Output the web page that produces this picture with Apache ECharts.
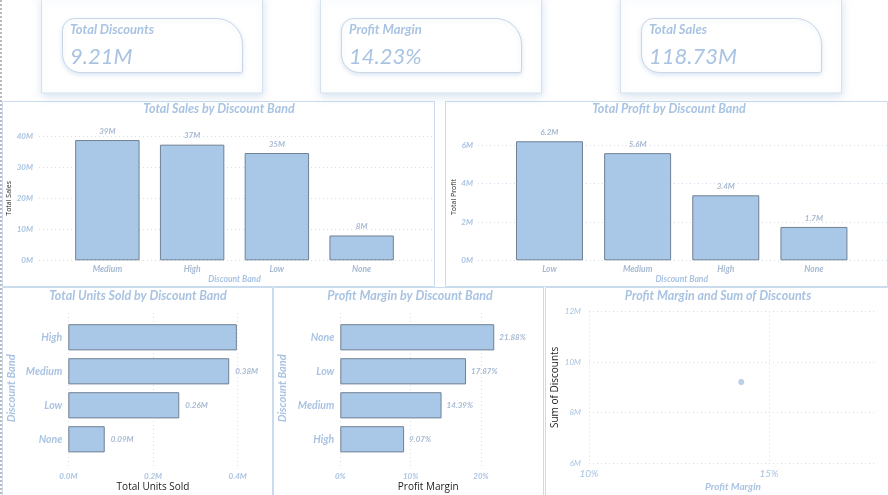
<!DOCTYPE html>
<html style="height: 100%">
<head>
    <meta charset="utf-8">
    <script src="https://cdn.jsdelivr.net/npm/echarts@6/dist/echarts.min.js"></script>
</head>
<body style="height: 100%; margin: 0; background: #fff">
    <div id="main" style="width: 888px; height: 495px;"></div>
    <script type="text/javascript">
    // KPI cards
    var kpiNames = ['Total Discounts', 'Profit Margin', 'Total Sales'];
    var kpiValues = ['9.21M', '14.23%', '118.73M'];

    // Total Sales by Discount Band (M)
    var salesBands = ['Medium', 'High', 'Low', 'None'];
    var salesValues = [38.8, 37.3, 34.6, 8.0];
    // Total Profit by Discount Band (M)
    var profitBands = ['Low', 'Medium', 'High', 'None'];
    var profitValues = [6.21, 5.59, 3.39, 1.74];
    // Total Units Sold by Discount Band (M)
    var unitsBands = ['High', 'Medium', 'Low', 'None'];
    var unitsValues = [0.398, 0.38, 0.262, 0.086];
    // Profit Margin by Discount Band (%)
    var marginBands = ['None', 'Low', 'Medium', 'High'];
    var marginValues = [21.88, 17.87, 14.39, 9.07];
    // Profit Margin (%) vs Sum of Discounts (M)
    var scatterPoint = [14.23, 9.21];

    var LB = '#a9c3e2';
    var LB2 = '#a7b9d1';
    var BAR = '#a9c8e7';
    var BAR_EDGE = '#6f8194';
    var FONT = 'Lato';
    var dotted = { show: true, lineStyle: { color: '#d5dee8', type: [1, 3], width: 1 } };
    var noLine = { show: false };

    function lbl(size, bold, color) {
        return { color: color || LB, fontSize: size, fontStyle: 'italic', fontWeight: bold ? 'bold' : 'normal', fontFamily: FONT };
    }
    function titleAt(text, x, y) {
        return { text: text, left: x, top: y, textAlign: 'center', padding: 0,
            textStyle: { color: LB, fontSize: 12.5, fontStyle: 'italic', fontWeight: 'bold', fontFamily: FONT } };
    }
    function barStyle() {
        return { color: BAR, borderColor: BAR_EDGE, borderWidth: 1 };
    }

    var myChart = echarts.init(document.getElementById('main'));

    // 面板和卡片
    var graphics = [
        { type: 'line', shape: { x1: 1, y1: 0, x2: 1, y2: 495 }, style: { stroke: '#777', lineDash: [2, 2], lineWidth: 1 } },
        { type: 'rect', shape: { x: 2.5, y: 101.5, width: 432, height: 185 }, style: { fill: 'none', stroke: '#c9dbec' } },
        { type: 'rect', shape: { x: 445.5, y: 101.5, width: 442, height: 185 }, style: { fill: 'none', stroke: '#c9dbec' } },
        { type: 'rect', shape: { x: 2.5, y: 287.5, width: 270, height: 210 }, style: { fill: 'none', stroke: '#c9dbec' } },
        { type: 'rect', shape: { x: 273.5, y: 287.5, width: 270, height: 210 }, style: { fill: 'none', stroke: '#c9dbec' } },
        { type: 'rect', shape: { x: 545.5, y: 287.5, width: 343, height: 210 }, style: { fill: 'none', stroke: '#c9dbec' } }
    ];
    var cardX = [41, 320, 620];
    for (var i = 0; i < kpiNames.length; i++) {
        var cx = cardX[i];
        graphics.push({ type: 'rect', shape: { x: cx + 0.5, y: -3, width: 221, height: 96 },
            style: { fill: '#fff', stroke: '#d6e2ee', shadowBlur: 8, shadowOffsetY: 3, shadowColor: 'rgba(150,180,215,0.35)' } });
        graphics.push({ type: 'rect', shape: { x: cx + 21.5, y: 18.5, width: 180, height: 54, r: [12, 26, 2, 18] },
            style: { fill: '#fff', stroke: '#c8d6e6', shadowBlur: 4, shadowOffsetY: 2, shadowColor: 'rgba(150,180,215,0.3)' } });
        graphics.push({ type: 'text', x: cx + 29, y: 30,
            style: { text: kpiNames[i], fill: LB, font: 'italic bold 13px Lato', verticalAlign: 'middle' } });
        graphics.push({ type: 'text', x: cx + 29, y: 57,
            style: { text: kpiValues[i], fill: LB, font: 'italic 22px Lato', verticalAlign: 'middle' } });
    }

    var option = {
        animation: false,
        backgroundColor: '#fff',
        graphic: graphics,
        title: [
            titleAt('Total Sales by Discount Band', 219, 102),
            titleAt('Total Profit by Discount Band', 669, 102),
            titleAt('Total Units Sold by Discount Band', 138, 289),
            titleAt('Profit Margin by Discount Band', 410, 289),
            titleAt('Profit Margin and Sum of Discounts', 718, 289)
        ],
        grid: [
            { left: 39, right: 456, top: 136.3, bottom: 234.7 },
            { left: 65, width: 339, top: 136.3, bottom: 234.7 },
            { left: 478, right: 0, top: 133.8, bottom: 234.7 },
            { left: 505.4, width: 352.6, top: 133.8, bottom: 234.7 },
            { left: 68.3, width: 169.4, top: 313, bottom: 29 },
            { left: 68.3, width: 169.4, top: 320.3, bottom: 38.7 },
            { left: 340.3, width: 175.9, top: 313, bottom: 29 },
            { left: 340.3, width: 175.9, top: 320.3, bottom: 38.7 },
            { left: 589, width: 288, top: 311.7, bottom: 32 }
        ],
        xAxis: [
            { gridIndex: 0, type: 'value', show: false, min: 0, max: 1 },
            { gridIndex: 1, type: 'category', data: salesBands, axisLine: noLine, axisTick: noLine,
                axisLabel: Object.assign(lbl(8.5, true, LB2), { margin: 4 }),
                name: 'Discount Band', nameLocation: 'middle', nameGap: 14, nameTextStyle: lbl(8.5, true) },
            { gridIndex: 2, type: 'value', show: false, min: 0, max: 1 },
            { gridIndex: 3, type: 'category', data: profitBands, axisLine: noLine, axisTick: noLine,
                axisLabel: Object.assign(lbl(8.5, true, LB2), { margin: 4 }),
                name: 'Discount Band', nameLocation: 'middle', nameGap: 14, nameTextStyle: lbl(8.5, true) },
            { gridIndex: 4, type: 'value', min: 0, max: 0.4, interval: 0.2, axisLine: noLine, axisTick: noLine,
                splitLine: dotted,
                axisLabel: Object.assign(lbl(8, true), { margin: 6, formatter: function(v) { return v.toFixed(1) + 'M'; } }),
                name: 'Total Units Sold', nameLocation: 'middle', nameGap: 16,
                nameTextStyle: { color: '#222', fontSize: 10, fontFamily: 'Open Sans' } },
            { gridIndex: 5, type: 'value', show: false, min: 0, max: 0.4 },
            { gridIndex: 6, type: 'value', min: 0, max: 25, interval: 10, axisLine: noLine, axisTick: noLine,
                splitLine: Object.assign({ showMaxLine: false }, dotted),
                axisLabel: Object.assign(lbl(8, true), { margin: 6, showMaxLabel: false, formatter: '{value}%' }),
                name: 'Profit Margin', nameLocation: 'middle', nameGap: 16,
                nameTextStyle: { color: '#222', fontSize: 10, fontFamily: 'Open Sans' } },
            { gridIndex: 7, type: 'value', show: false, min: 0, max: 25 },
            { gridIndex: 8, type: 'value', min: 10, max: 18, interval: 5, axisLine: noLine, axisTick: noLine,
                splitLine: Object.assign({ showMaxLine: false }, dotted),
                axisLabel: Object.assign(lbl(10, false), { margin: 6, showMaxLabel: false, formatter: '{value}%' }),
                name: 'Profit Margin', nameLocation: 'middle', nameGap: 19, nameTextStyle: lbl(10, true) }
        ],
        yAxis: [
            { gridIndex: 0, type: 'value', min: 0, max: 40, interval: 10, axisLine: noLine, axisTick: noLine,
                splitLine: dotted,
                axisLabel: Object.assign(lbl(8, true), { margin: 6, formatter: '{value}M' }),
                name: 'Total Sales', nameLocation: 'middle', nameGap: 26, nameRotate: 90,
                nameTextStyle: { color: '#222', fontSize: 7, fontFamily: 'Open Sans' } },
            { gridIndex: 1, type: 'value', show: false, min: 0, max: 40 },
            { gridIndex: 2, type: 'value', min: 0, max: 6.6, interval: 2, axisLine: noLine, axisTick: noLine,
                splitLine: Object.assign({ showMaxLine: false }, dotted),
                axisLabel: Object.assign(lbl(8, true), { margin: 5, showMaxLabel: false, formatter: '{value}M' }),
                name: 'Total Profit', nameLocation: 'middle', nameGap: 21, nameRotate: 90,
                nameTextStyle: { color: '#222', fontSize: 7, fontFamily: 'Open Sans' } },
            { gridIndex: 3, type: 'value', show: false, min: 0, max: 6.6 },
            { gridIndex: 4, type: 'value', show: false, min: 0, max: 1 },
            { gridIndex: 5, type: 'category', data: unitsBands, inverse: true, axisLine: noLine, axisTick: noLine,
                axisLabel: Object.assign(lbl(10.5, true), { margin: 6 }),
                name: 'Discount Band', nameLocation: 'middle', nameGap: 51, nameRotate: 90, nameTextStyle: lbl(11, true) },
            { gridIndex: 6, type: 'value', show: false, min: 0, max: 1 },
            { gridIndex: 7, type: 'category', data: marginBands, inverse: true, axisLine: noLine, axisTick: noLine,
                axisLabel: Object.assign(lbl(10.5, true), { margin: 6 }),
                name: 'Discount Band', nameLocation: 'middle', nameGap: 52, nameRotate: 90, nameTextStyle: lbl(11, true) },
            { gridIndex: 8, type: 'value', min: 6, max: 12, interval: 2, axisLine: noLine, axisTick: noLine,
                splitLine: dotted,
                axisLabel: Object.assign(lbl(8, false), { margin: 8, formatter: '{value}M' }),
                name: 'Sum of Discounts', nameLocation: 'middle', nameGap: 29, nameRotate: 90,
                nameTextStyle: { color: '#222', fontSize: 10, fontFamily: 'Open Sans' } }
        ],
        series: [{
            type: 'bar', xAxisIndex: 1, yAxisIndex: 1, data: salesValues, barCategoryGap: '24%',
            itemStyle: barStyle(),
            label: Object.assign(lbl(8, true, LB2), { show: true, position: 'top', distance: 5,
                formatter: function(p) { return Math.round(p.value) + 'M'; } })
        }, {
            type: 'bar', xAxisIndex: 3, yAxisIndex: 3, data: profitValues, barCategoryGap: '24%',
            itemStyle: barStyle(),
            label: Object.assign(lbl(8, true, LB2), { show: true, position: 'top', distance: 5,
                formatter: function(p) { return p.value.toFixed(1) + 'M'; } })
        }, {
            type: 'bar', xAxisIndex: 5, yAxisIndex: 5, barCategoryGap: '23%',
            data: unitsValues.map(function(v) { return { value: v, label: { show: v < 0.39 } }; }),
            itemStyle: barStyle(),
            label: Object.assign(lbl(8, true, LB2), { show: true, position: 'right', distance: 6,
                formatter: function(p) { return p.value.toFixed(2) + 'M'; } })
        }, {
            type: 'bar', xAxisIndex: 7, yAxisIndex: 7, data: marginValues, barCategoryGap: '23%',
            itemStyle: barStyle(),
            label: Object.assign(lbl(8, true, LB2), { show: true, position: 'right', distance: 5,
                formatter: function(p) { return p.value.toFixed(2) + '%'; } })
        }, {
            type: 'scatter', xAxisIndex: 8, yAxisIndex: 8, data: [scatterPoint], symbolSize: 6,
            itemStyle: { color: LB }
        }]
    };

    myChart.setOption(option);
    </script>
</body>
</html>
